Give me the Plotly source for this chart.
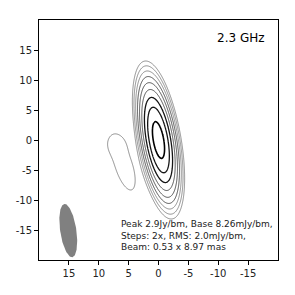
import numpy as np
import plotly.graph_objects as go

# ---- data ----
# Gaussian model components: peak (mJy/beam), position (mas), sigmas (mas), PA (deg, from +y toward +x)
comp_peak = [2900.0, 14.0, 6.5]
comp_x = [0.0, 5.8, 7.1]
comp_y = [0.0, -4.3, -0.7]
comp_smaj = [3.9, 4.1, 1.3]
comp_smin = [1.10, 1.4, 1.3]
comp_pa = [10.0, 18.0, 0.0]

base_level = 8.26          # mJy/beam
n_levels = 9               # levels base * 2^k
level_groups = [[0, 2], [3, 5], [6, 7], [8, 8]]
group_colors = ["#5e5e5e", "#3a3a3a", "#151515", "#000000"]
group_widths = [0.7, 0.9, 1.3, 1.6]

beam_center = [15.1, -15.1]
beam_major = 8.97
beam_minor = 2.7
beam_pa = 8.5

tick_vals = [15, 10, 5, 0, -5, -10, -15]
tick_text = ["15", "10", "5", "0", "-5", "-10", "-15"]

freq_label = "2.3 GHz"
info_lines = ["Peak 2.9Jy/bm, Base 8.26mJy/bm,",
              "Steps: 2x, RMS: 2.0mJy/bm,",
              "Beam: 0.53 x 8.97 mas"]

# ---- model image ----
xs = np.round(np.arange(-8, 12.001, 0.1), 2)
ys = np.round(np.arange(-16, 16.001, 0.1), 2)
X, Y = np.meshgrid(xs, ys)
img = np.zeros_like(X)
for p, cx, cy, sa, sb, pa in zip(comp_peak, comp_x, comp_y, comp_smaj, comp_smin, comp_pa):
    t = np.deg2rad(pa)
    dx, dy = X - cx, Y - cy
    u = dx * np.sin(t) + dy * np.cos(t)
    v = dx * np.cos(t) - dy * np.sin(t)
    img += p * np.exp(-0.5 * (u / sa) ** 2 - 0.5 * (v / sb) ** 2)
Z = np.log2(np.maximum(img, 1e-6) / base_level)
Z = np.round(np.clip(Z, -1.5, n_levels + 1), 3)

fig = go.Figure()
for (s, e), c, w in zip(level_groups, group_colors, group_widths):
    fig.add_trace(go.Contour(
        x=xs, y=ys, z=Z,
        contours=dict(start=s, end=e, size=1, coloring="none"),
        line=dict(color=c, width=w, smoothing=1.0),
        showscale=False, hoverinfo="skip"))

# beam ellipse
th = np.linspace(0, 2 * np.pi, 120)
tb = np.deg2rad(beam_pa)
bu = beam_major / 2 * np.cos(th)
bv = beam_minor / 2 * np.sin(th)
bx = beam_center[0] + bu * np.sin(tb) + bv * np.cos(tb)
by = beam_center[1] + bu * np.cos(tb) - bv * np.sin(tb)
fig.add_trace(go.Scatter(x=bx, y=by, mode="lines", fill="toself",
                         fillcolor="#808080", line=dict(width=0, color="#808080"),
                         hoverinfo="skip", showlegend=False))

axis_common = dict(showline=True, mirror=True, linecolor="black", linewidth=1,
                   ticks="outside", ticklen=4, tickwidth=1, tickcolor="black",
                   showgrid=False, zeroline=False, automargin=False,
                   tickvals=tick_vals, ticktext=tick_text,
                   tickfont=dict(size=10, color="#222"))
fig.update_layout(
    width=295, height=295,
    margin=dict(l=31, r=25, t=12, b=43),
    paper_bgcolor="white", plot_bgcolor="white",
    font=dict(family="DejaVu Sans", color="black"),
    showlegend=False,
    xaxis=dict(range=[20, -20], **axis_common),
    yaxis=dict(range=[-20, 20], **axis_common),
)
fig.add_annotation(text=freq_label, xref="paper", yref="paper", x=0.952, y=0.925,
                   xanchor="right", yanchor="middle", showarrow=False,
                   font=dict(size=12, color="black"))
fig.add_annotation(text="<br>".join(info_lines), xref="paper", yref="paper",
                   x=0.335, y=0.104, xanchor="left", yanchor="middle", align="left",
                   showarrow=False, font=dict(size=9, color="#222"))

fig.write_html("out.html")
